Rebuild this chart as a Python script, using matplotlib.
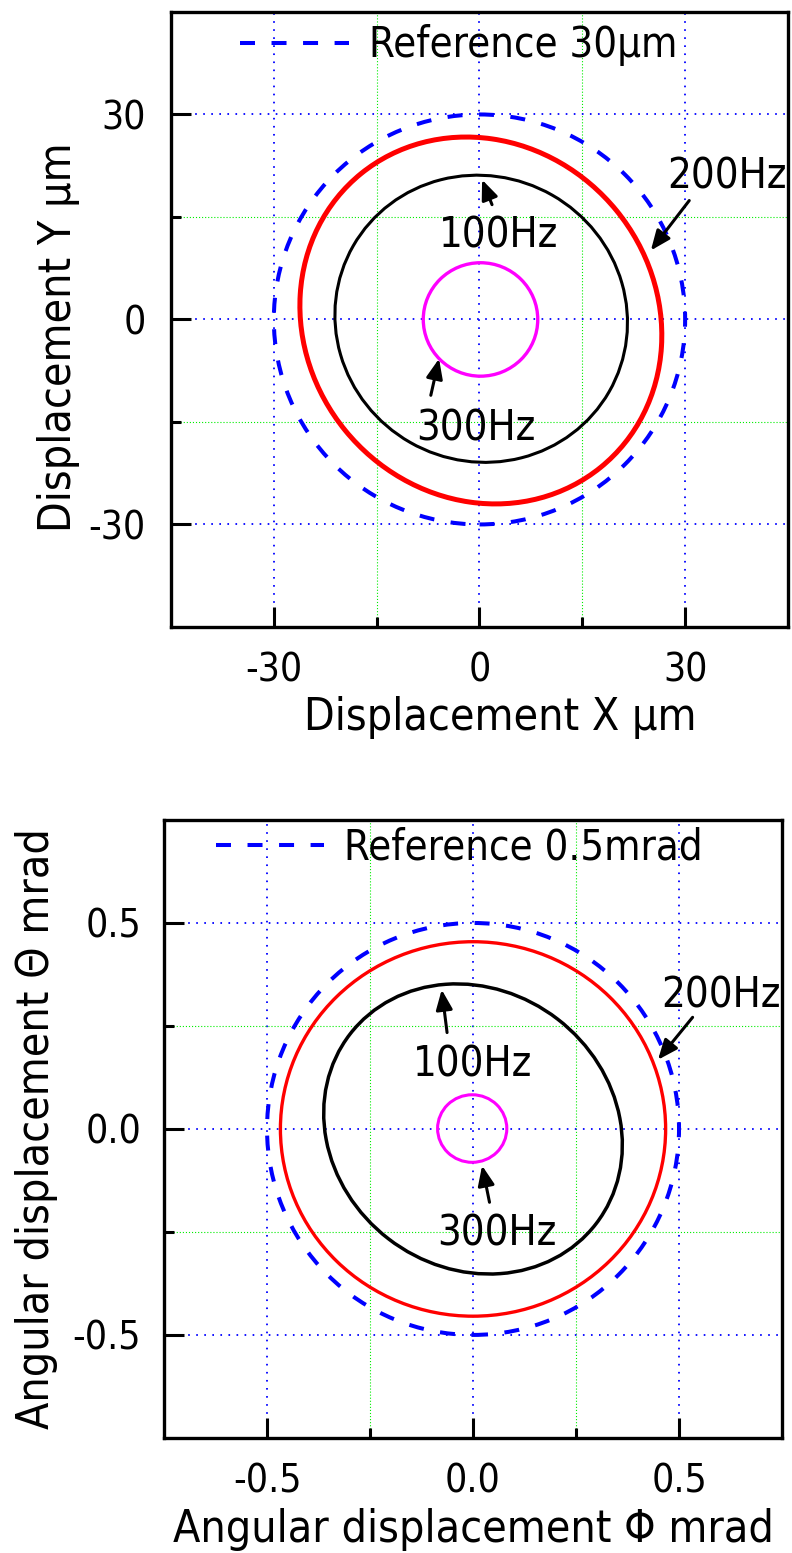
import matplotlib
matplotlib.use('Agg')
import matplotlib.pyplot as plt
from matplotlib.patches import Ellipse
from matplotlib.lines import Line2D
from matplotlib.ticker import MultipleLocator, FixedLocator, FormatStrFormatter

plt.rcParams['font.family'] = 'DejaVu Sans'
plt.rcParams['font.stretch'] = 'condensed'
plt.rcParams['axes.unicode_minus'] = False
plt.rcParams['lines.scale_dashes'] = False

# Orbits at each excitation frequency, fitted as ellipses
freqs = ['100Hz', '200Hz', '300Hz']

# translational orbit (um): centre, full width/height, tilt (deg)
lin_cx = [0.25, 0.2, 0.15]
lin_cy = [0.1, -0.15, 0.0]
lin_w = [43.0, 55.4, 16.7]
lin_h = [41.7, 51.0, 16.6]
lin_tilt = [-29.8, -50.9, 0.0]
lin_ref = 30.0

# angular orbit (mrad)
ang_cx = [0.0, 0.0, -0.002]
ang_cy = [0.0, 0.0, 0.001]
ang_w = [0.754, 0.935, 0.168]
ang_h = [0.673, 0.909, 0.164]
ang_tilt = [-37.6, 0.0, 0.0]
ang_ref = 0.5

colors = ['black', 'red', 'magenta']
ref_color = '#0000ff'
ref_dash = (0, (10.8, 11.9))

TICK_FS = 28
LABEL_FS = 32
TEXT_FS = 30

fig = plt.figure(figsize=(7.92, 15.53), dpi=100)
ax1 = fig.add_axes([0.2159, 0.5963, 0.7790, 0.3960])
ax2 = fig.add_axes([0.2071, 0.0741, 0.7803, 0.3979])


def draw_panel(ax, cx, cy, w, h, tilt, ref, lws, lim, major, minor, fmt):
    ax.set_xlim(-lim, lim)
    ax.set_ylim(-lim, lim)
    ax.set_axisbelow(True)

    ax.add_patch(Ellipse((0, 0), 2 * ref, 2 * ref, fill=False, edgecolor=ref_color,
                         lw=2.9, linestyle=ref_dash, zorder=3))

    for i in range(len(freqs)):
        ax.add_patch(Ellipse((cx[i], cy[i]), w[i], h[i], angle=tilt[i], fill=False,
                             edgecolor=colors[i], lw=lws[i], zorder=4))

    for axis in (ax.xaxis, ax.yaxis):
        axis.set_major_locator(MultipleLocator(major))
        axis.set_minor_locator(FixedLocator([-minor, minor]))
        axis.set_major_formatter(FormatStrFormatter(fmt))

    ax.grid(which='major', color='#0000ff', linestyle=(0, (1.2, 4.6)), lw=1.3)
    ax.grid(which='minor', color='#00ee00', linestyle=(0, (0.8, 1.4)), lw=0.8)

    ax.tick_params(which='both', direction='in', top=False, right=False,
                   width=2.2, labelsize=TICK_FS)
    ax.tick_params(which='major', length=14.5)
    ax.tick_params(which='minor', length=7.5)
    for s in ax.spines.values():
        s.set_linewidth(2.4)


draw_panel(ax1, lin_cx, lin_cy, lin_w, lin_h, lin_tilt, lin_ref,
           [2.2, 3.6, 2.4], 45, 30, 15, '%d')
draw_panel(ax2, ang_cx, ang_cy, ang_w, ang_h, ang_tilt, ang_ref,
           [2.5, 2.4, 2.2], 0.75, 0.5, 0.25, '%.1f')

ax1.tick_params(axis='x', pad=18)
ax1.tick_params(axis='y', pad=18)
ax2.tick_params(axis='x', pad=18)
ax2.tick_params(axis='y', pad=16.5)

ax1.set_xlabel('Displacement X μm', fontsize=LABEL_FS)
ax1.set_ylabel('Displacement Y μm', fontsize=LABEL_FS)
ax1.xaxis.set_label_coords(0.533, -0.112)
ax1.yaxis.set_label_coords(-0.147, 0.4715)

ax2.set_xlabel('Angular displacement Φ mrad', fontsize=LABEL_FS)
ax2.set_ylabel('Angular displacement Θ mrad', fontsize=LABEL_FS)
ax2.xaxis.set_label_coords(0.5, -0.113)
ax2.yaxis.set_label_coords(-0.1715, 0.5)

# legend entry for the reference circle
ref_line = Line2D([], [], color=ref_color, lw=2.9, linestyle=ref_dash)
for ax, txt, anchor in [(ax1, 'Reference 30μm', (0.112, 0.946)),
                        (ax2, 'Reference 0.5mrad', (0.0835, 0.9547))]:
    ax.legend([ref_line], [txt], loc='center left', bbox_to_anchor=anchor,
              frameon=False, fontsize=TEXT_FS, handlelength=2.61,
              handletextpad=0.48, borderpad=0, borderaxespad=0)

# frequency labels with arrows
arrow = dict(arrowstyle='-|>,head_length=0.6,head_width=0.25', color='black',
             lw=2.2, mutation_scale=20, shrinkA=0, shrinkB=0)


def label(ax, text, pos, tip, tail):
    ax.annotate('', xy=tip, xytext=tail, arrowprops=arrow, zorder=6)
    ax.text(pos[0], pos[1], text, fontsize=TEXT_FS, ha='center', va='baseline', zorder=6)


label(ax1, '100Hz', (2.8, 10.54), (0.38, 20.45), (1.83, 16.8))
label(ax1, '200Hz', (36.1, 19.2), (25.0, 10.1), (30.6, 17.4))
label(ax1, '300Hz', (-0.46, -17.7), (-5.9, -5.75), (-7.1, -11.1))

label(ax2, '100Hz', (0.0, 0.128), (-0.076, 0.338), (-0.063, 0.234))
label(ax2, '200Hz', (0.603, 0.295), (0.449, 0.168), (0.533, 0.271))
label(ax2, '300Hz', (0.058, -0.282), (0.022, -0.089), (0.040, -0.178))

plt.savefig('out.png', dpi=100)
